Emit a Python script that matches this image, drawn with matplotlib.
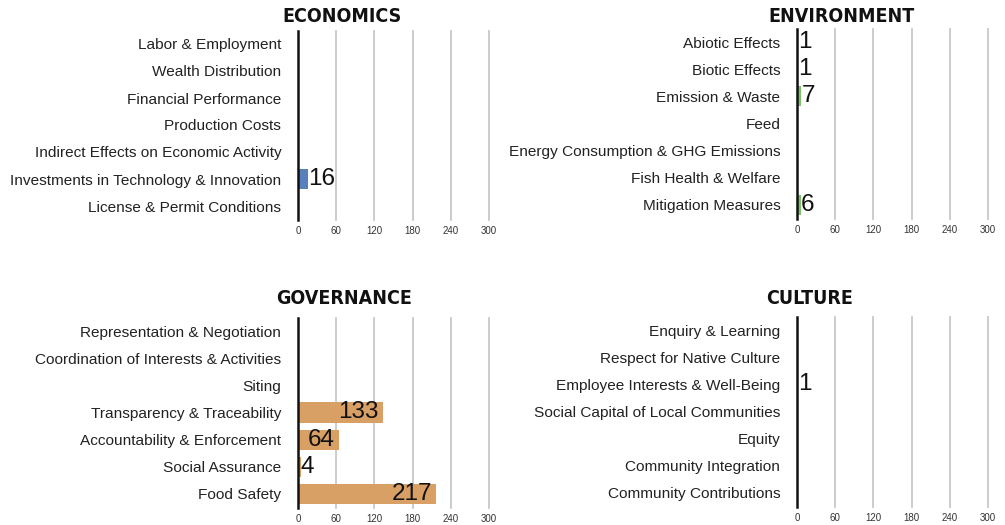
import matplotlib
matplotlib.use("Agg")
import matplotlib.pyplot as plt
from matplotlib import font_manager
import os

econ_cats = ["Labor & Employment", "Wealth Distribution", "Financial Performance",
             "Production Costs", "Indirect Effects on Economic Activity",
             "Investments in Technology & Innovation", "License & Permit Conditions"]
econ_vals = [0, 0, 0, 0, 0, 16, 0]

env_cats = ["Abiotic Effects", "Biotic Effects", "Emission & Waste", "Feed",
            "Energy Consumption & GHG Emissions", "Fish Health & Welfare",
            "Mitigation Measures"]
env_vals = [1, 1, 7, 0, 0, 0, 6]

gov_cats = ["Representation & Negotiation", "Coordination of Interests & Activities",
            "Siting", "Transparency & Traceability", "Accountability & Enforcement",
            "Social Assurance", "Food Safety"]
gov_vals = [0, 0, 0, 133, 64, 4, 217]

cul_cats = ["Enquiry & Learning", "Respect for Native Culture",
            "Employee Interests & Well-Being", "Social Capital of Local Communities",
            "Equity", "Community Integration", "Community Contributions"]
cul_vals = [0, 0, 1, 0, 0, 0, 0]

xticks = [0, 60, 120, 180, 240, 300]

# find a condensed bold (non-mono) font for titles
files = sorted(f.fname for f in font_manager.fontManager.ttflist)


def pick(test):
    for fn in files:
        base = os.path.basename(fn).lower().replace("_", "").replace("-", "")
        if "italic" in base or "mono" in base or "display" in base:
            continue
        if test(base):
            return font_manager.FontProperties(fname=fn)
    return None


title_fp = (pick(lambda b: "condensedbold" in b and "extra" not in b and "semi" not in b)
            or pick(lambda b: "narrowbold" in b)
            or pick(lambda b: "semicondensedbold" in b)
            or pick(lambda b: "extracondensedbold" in b)
            or font_manager.FontProperties(family="DejaVu Sans", weight="bold"))

W, H = 1005, 525
fig = plt.figure(figsize=(W / 100, H / 100), dpi=100)
plt.rcParams['font.family'] = ['Liberation Sans', 'DejaVu Sans']
renderer = fig.canvas.get_renderer()

# size titles so that "ECONOMICS" is about 112 px wide
probe = title_fp.copy()
probe.set_size(20)
tmp = fig.text(0, 0, "ECONOMICS", fontproperties=probe)
wpx = tmp.get_window_extent(renderer).width
tmp.remove()
title_size = max(14, min(20 * 112.0 / wpx, 18))

panels = [
    ("ECONOMICS", econ_cats, econ_vals, "#5a7fbd", 298, 30.5, 219.5, 342, 17),
    ("ENVIRONMENT", env_cats, env_vals, "#7cc26b", 797, 28.5, 218.5, 841, 17),
    ("GOVERNANCE", gov_cats, gov_vals, "#d9a066", 298, 317.5, 507.5, 344, 298),
    ("CULTURE", cul_cats, cul_vals, "#d9a066", 797, 316.5, 506.5, 810, 298),
]

for title, cats, vals, color, x0, ytop, ybot, tx, ty in panels:
    axw = 191
    ax = fig.add_axes([x0 / W, 1 - ybot / H, axw / W, (ybot - ytop) / H])
    ypos = list(range(len(cats)))
    ax.barh(ypos, vals, height=0.74, color=color, zorder=2)
    ax.set_xlim(0, 300)
    ax.set_ylim(len(cats) - 0.5, -0.5)
    ax.set_yticks(ypos)
    ax.set_yticklabels(cats, fontsize=11.1, color="#222222")
    ax.set_xticks(xticks)
    ax.set_xticklabels([str(t) for t in xticks], fontsize=7, color="#333333")
    ax.tick_params(axis="y", length=0, pad=12)
    ax.tick_params(axis="x", length=0, pad=5)
    for s in ax.spines.values():
        s.set_visible(False)
    for t in xticks[1:]:
        ax.axvline(t, color="#c8c8c8", lw=1.3, zorder=1, clip_on=False)
    ax.axvline(0, color="#111111", lw=1.8, zorder=3, clip_on=False)
    for y, v in zip(ypos, vals):
        if v <= 0:
            continue
        if v > 40:
            ax.annotate(str(v), (v, y), xytext=(-3, 0), textcoords="offset points",
                        ha="right", va="center", fontsize=17.5, color="#111111", zorder=4)
        else:
            ax.annotate(str(v), (v, y), xytext=(0, 0), textcoords="offset points",
                        ha="left", va="center", fontsize=17.5, color="#111111", zorder=4)
    fp = title_fp.copy()
    fp.set_size(title_size)
    fig.text(tx / W, 1 - ty / H, title, ha="center", va="center",
             fontproperties=fp, color="#111111")

fig.savefig("out.png", dpi=100)
